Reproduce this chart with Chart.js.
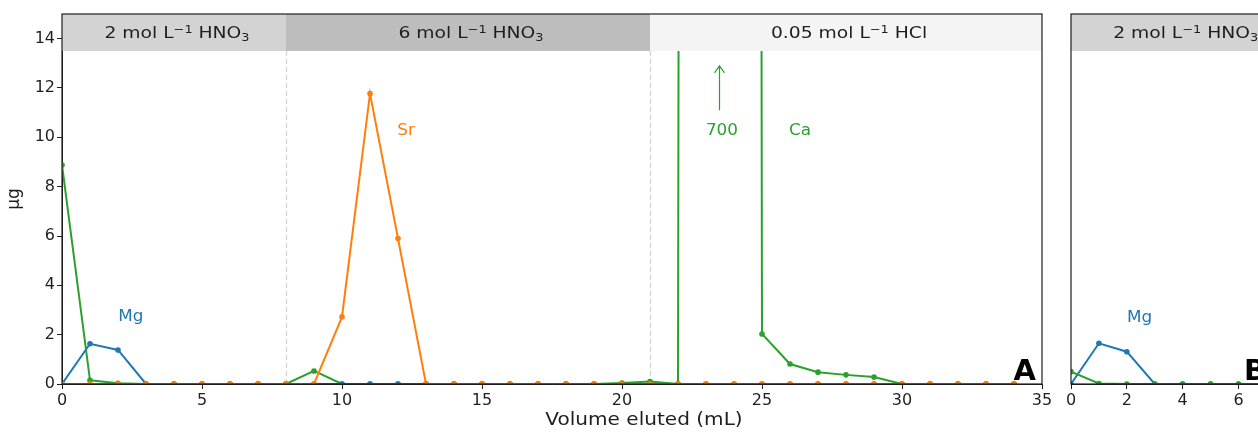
<!DOCTYPE html>
<html>
<head>
<meta charset="utf-8">
<script src="https://cdn.jsdelivr.net/npm/chart.js@4/dist/chart.umd.min.js"></script>
<style>
    html, body { margin: 0; padding: 0; background: #fff; overflow: hidden; }
    #wrap { position: relative; width: 1258px; height: 432px; overflow: hidden; }
    #chart-a { position: absolute; left: 0; top: 0; }
    #chart-b { position: absolute; left: 1040px; top: 0; }
</style>
</head>
<body>
<div id="wrap">
    <canvas id="chart-a" width="1060" height="432"></canvas>
    <canvas id="chart-b" width="250" height="432"></canvas>
</div>
<script>
// Elution profile: Mg, Sr, Ca (µg) per mL eluted
const MG = '#1f77b4';
const SR = '#ff7f0e';
const CA = '#2ca02c';
const INK = '#1e1e1e';
const FONT = "'DejaVu Sans', sans-serif";
const STRETCH = 1.17; // the source figure is a bit wider than tall

// panel A
const volumeA = [0, 1, 2, 3, 4, 5, 6, 7, 8, 9, 10, 11, 12, 13, 14, 15, 16, 17, 18, 19, 20, 21, 22, 23, 24, 25, 26, 27, 28, 29, 30, 31, 32, 33, 34];
const mgA = [0, 1.63, 1.38, 0, 0, 0, 0, 0, 0, 0, 0, 0, 0, 0, 0, 0, 0, 0, 0, 0, 0, 0, 0, 0, 0, 0, 0, 0, 0, 0, 0, 0, 0, 0, 0];
const srA = [0, 0, 0, 0, 0, 0, 0, 0, 0, 0, 2.72, 11.77, 5.9, 0, 0, 0, 0, 0, 0, 0, 0, 0, 0, 0, 0, 0, 0, 0, 0, 0, 0, 0, 0, 0, 0];
const caA = [8.88, 0.15, 0.03, 0, 0, 0, 0, 0, 0, 0.53, 0, 0, 0, 0, 0, 0, 0, 0, 0, 0, 0.04, 0.1, 0, 700, 700, 2.03, 0.81, 0.48, 0.37, 0.28, 0, 0, 0, 0, 0];
const xTicksA = [0, 5, 10, 15, 20, 25, 30, 35];

// panel B (cut off at the right edge)
const volumeB = [0, 1, 2, 3, 4, 5, 6, 7];
const mgB = [0, 1.65, 1.31, 0, 0, 0, 0, 0];
const caB = [0.5, 0.02, 0, 0, 0, 0, 0, 0];
const xTicksB = [0, 2, 4, 6];

const yTicks = [0, 2, 4, 6, 8, 10, 12, 14];

// eluent bands
const eluentLabels = ['2 mol L⁻¹ HNO₃', '6 mol L⁻¹ HNO₃', '0.05 mol L⁻¹ HCl'];
const eluentStart = [0, 8, 21];
const eluentEnd = [8, 21, 35];
const eluentColors = ['#d3d3d3', '#bdbdbd', '#f4f4f4'];
const BAND_BOTTOM = 13.5;
const Y_MAX = 15;

const SUP = { '⁻': '−', '¹': '1' };
const SUB = { '₃': '3' };

function points(xs, ys) {
    return xs.map((x, i) => ({ x, y: ys[i] }));
}

function serie(data, color) {
    return {
        data,
        borderColor: color,
        backgroundColor: color,
        borderWidth: 2,
        pointRadius: 2.8,
        pointBorderWidth: 0,
        tension: 0,
    };
}

// splits "L⁻¹ HNO₃" into normal / raised / lowered runs
function runs(text) {
    const out = [];
    for (const ch of text) {
        const kind = SUP[ch] ? 'sup' : SUB[ch] ? 'sub' : 'n';
        const c = SUP[ch] || SUB[ch] || ch;
        const last = out[out.length - 1];
        if (last && last.kind === kind) last.t += c; else out.push({ kind, t: c });
    }
    return out;
}

function richText(ctx, text, cx, cy, size) {
    const parts = runs(text);
    const small = Math.round(size * 0.7);
    let w = 0;
    parts.forEach((p) => {
        ctx.font = `${p.kind === 'n' ? size : small}px ${FONT}`;
        p.w = ctx.measureText(p.t).width;
        w += p.w;
    });
    ctx.save();
    ctx.translate(cx, cy);
    ctx.scale(STRETCH, 1);
    ctx.textAlign = 'left';
    ctx.textBaseline = 'alphabetic';
    let x = -w / 2;
    const base = size * 0.36;
    parts.forEach((p) => {
        ctx.font = `${p.kind === 'n' ? size : small}px ${FONT}`;
        const dy = p.kind === 'sup' ? -size * 0.36 : p.kind === 'sub' ? size * 0.2 : 0;
        ctx.fillText(p.t, x, base + dy);
        x += p.w;
    });
    ctx.restore();
}

function plainText(ctx, text, x, y, size, color, sx) {
    ctx.save();
    ctx.translate(x, y);
    ctx.scale(sx, 1);
    ctx.font = `${size}px ${FONT}`;
    ctx.fillStyle = color;
    ctx.textAlign = 'center';
    ctx.textBaseline = 'middle';
    ctx.fillText(text, 0, 0);
    ctx.restore();
}

function decor(cfg) {
    return {
        id: 'decor',
        beforeDatasetsDraw(chart) {
            const { ctx, chartArea, scales: { x, y } } = chart;
            ctx.save();
            ctx.strokeStyle = '#d4d4d4';
            ctx.lineWidth = 1.3;
            ctx.setLineDash([5, 3]);
            eluentStart.slice(1).forEach((v) => {
                const px = Math.round(x.getPixelForValue(v)) + 0.5;
                if (px <= chartArea.left || px >= chartArea.right) return;
                ctx.beginPath();
                ctx.moveTo(px, y.getPixelForValue(BAND_BOTTOM));
                ctx.lineTo(px, chartArea.bottom);
                ctx.stroke();
            });
            ctx.restore();
        },
        afterDatasetsDraw(chart) {
            const { ctx, chartArea, scales: { x, y } } = chart;
            const top = y.getPixelForValue(Y_MAX);
            const bot = y.getPixelForValue(BAND_BOTTOM);

            ctx.save();
            ctx.beginPath();
            ctx.rect(chartArea.left, chartArea.top, chartArea.right - chartArea.left, chartArea.bottom - chartArea.top);
            ctx.clip();
            eluentStart.forEach((s, i) => {
                const x0 = x.getPixelForValue(s);
                const x1 = x.getPixelForValue(eluentEnd[i]);
                ctx.fillStyle = eluentColors[i];
                ctx.fillRect(x0, top, x1 - x0, bot - top);
            });
            ctx.restore();

            ctx.save();
            ctx.fillStyle = INK;
            eluentStart.forEach((s, i) => {
                const cx = x.getPixelForValue((s + eluentEnd[i]) / 2);
                if (cx > chartArea.right) return;
                richText(ctx, eluentLabels[i], cx + 3, (top + bot) / 2, 16);
            });

            cfg.notes.forEach((n) => {
                plainText(ctx, n.text, x.getPixelForValue(n.x), y.getPixelForValue(n.y), 16, n.color, 1.05);
            });

            (cfg.arrows || []).forEach((a) => {
                const ax = Math.round(x.getPixelForValue(a.x)) + 0.5;
                const y0 = y.getPixelForValue(a.from);
                const y1 = y.getPixelForValue(a.to);
                ctx.strokeStyle = a.color;
                ctx.lineWidth = 1.2;
                ctx.beginPath();
                ctx.moveTo(ax, y0);
                ctx.lineTo(ax, y1);
                ctx.moveTo(ax - 5, y1 + 7);
                ctx.lineTo(ax, y1);
                ctx.lineTo(ax + 5, y1 + 7);
                ctx.stroke();
            });

            ctx.font = `bold 29px ${FONT}`;
            ctx.fillStyle = '#000';
            ctx.textAlign = 'right';
            ctx.textBaseline = 'alphabetic';
            ctx.fillText(cfg.letter, chartArea.right - 6, chartArea.bottom - 4);

            if (cfg.xTitle) {
                plainText(ctx, cfg.xTitle, cfg.xTitleAt, 421, 17, INK, 1.18);
            }

            ctx.strokeStyle = INK;
            ctx.lineWidth = 1.2;
            ctx.strokeRect(chartArea.left, chartArea.top, chartArea.right - chartArea.left, chartArea.bottom - chartArea.top);
            ctx.restore();
        },
    };
}

function tickAxis(ticks, extra) {
    return Object.assign({
        type: 'linear',
        afterBuildTicks: (scale) => { scale.ticks = ticks.map((v) => ({ value: v })); },
        ticks: { color: INK, font: { family: FONT, size: 16 }, padding: 2, maxRotation: 0 },
        grid: { drawOnChartArea: false, drawTicks: true, tickLength: 5, color: INK, lineWidth: 1 },
        border: { display: true, color: INK, width: 1 },
    }, extra);
}

const common = {
    responsive: false,
    animation: false,
    devicePixelRatio: 1,
    events: [],
    plugins: { legend: { display: false }, tooltip: { enabled: false } },
};

new Chart(document.getElementById('chart-a'), {
    type: 'line',
    data: {
        datasets: [
            serie(points(volumeA, srA), SR),
            serie(points(volumeA, mgA), MG),
            serie(points(volumeA, caA), CA),
        ],
    },
    options: Object.assign({}, common, {
        layout: { padding: { top: 14, right: 18, left: 0, bottom: 0 } },
        scales: {
            x: tickAxis(xTicksA, {
                min: 0, max: 35,
                afterFit: (s) => { s.height = 48; },
            }),
            y: tickAxis(yTicks, {
                min: 0, max: Y_MAX,
                afterFit: (s) => { s.width = 62; },
                title: { display: true, text: 'μg', color: INK, font: { family: FONT, size: 17 }, padding: { top: 4, bottom: 0 } },
            }),
        },
    }),
    plugins: [decor({
        letter: 'A',
        xTitle: 'Volume eluted (mL)',
        xTitleAt: 644,
        notes: [
            { text: 'Mg', x: 2.46, y: 2.72, color: MG },
            { text: 'Sr', x: 12.29, y: 10.27, color: SR },
            { text: '700', x: 23.57, y: 10.27, color: CA },
            { text: 'Ca', x: 26.36, y: 10.27, color: CA },
        ],
        arrows: [{ x: 23.46, from: 11.1, to: 12.9, color: CA }],
    })],
});

new Chart(document.getElementById('chart-b'), {
    type: 'line',
    data: {
        datasets: [
            serie(points(volumeB, caB), CA),
            serie(points(volumeB, mgB), MG),
        ],
    },
    options: Object.assign({}, common, {
        layout: { padding: { top: 14, right: 18, left: 31, bottom: 0 } },
        scales: {
            x: tickAxis(xTicksB, {
                min: 0, max: 7.2,
                afterFit: (s) => { s.height = 48; },
            }),
            y: { type: 'linear', display: false, min: 0, max: Y_MAX },
        },
    }),
    plugins: [decor({
        letter: 'B',
        notes: [{ text: 'Mg', x: 2.46, y: 2.68, color: MG }],
    })],
});
</script>
</body>
</html>
